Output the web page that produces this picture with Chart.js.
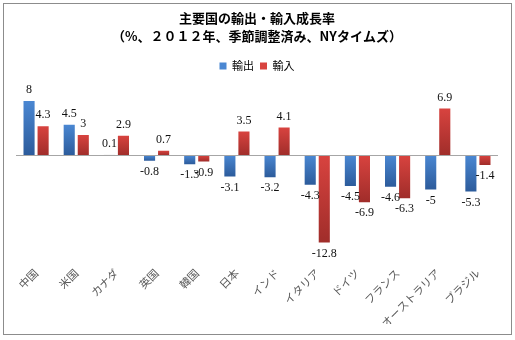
<!DOCTYPE html>
<html>
<head>
<meta charset="utf-8">
<script src="https://cdn.jsdelivr.net/npm/chart.js@4/dist/chart.umd.min.js"></script>
<style>
  html, body { margin: 0; padding: 0; background: #fff; }
  #wrap { position: relative; width: 515px; height: 340px; }
</style>
</head>
<body>
<div id="wrap"><canvas id="chart" width="515" height="340"></canvas></div>
<script>
// data
const countries = ['中国', '米国', 'カナダ', '英国', '韓国', '日本', 'インド', 'イタリア', 'ドイツ', 'フランス', 'オーストラリア', 'ブラジル'];
const exports = [8, 4.5, 0.1, -0.8, -1.3, -3.1, -3.2, -4.3, -4.5, -4.6, -5, -5.3];
const imports = [4.3, 3, 2.9, 0.7, -0.9, 3.5, 4.1, -12.8, -6.9, -6.3, 6.9, -1.4];
const titleLines = ['主要国の輸出・輸入成長率', '（%、２０１２年、季節調整済み、NYタイムズ）'];

const JP = '"Noto Sans CJK JP", "Noto Sans", sans-serif';

function barFill(light, dark) {
    return (ctx) => {
        const chart = ctx.chart;
        if (!chart.chartArea || ctx.raw == null) return light;
        const y = chart.scales.y;
        const top = y.getPixelForValue(Math.max(ctx.raw, 0));
        const bot = y.getPixelForValue(Math.min(ctx.raw, 0));
        if (bot - top < 1) return 'rgba(220,220,220,0.8)';
        const g = chart.ctx.createLinearGradient(0, top, 0, bot);
        g.addColorStop(0, light);
        g.addColorStop(1, dark);
        return g;
    };
}

// frame round the whole chart
const framePlugin = {
    id: 'frame',
    beforeDraw(chart) {
        const c = chart.ctx;
        c.save();
        c.fillStyle = '#fff';
        c.fillRect(0, 0, chart.width, chart.height);
        c.strokeStyle = '#8c8c8c';
        c.lineWidth = 1;
        c.strokeRect(3.5, 3.5, 508, 331);
        c.restore();
    }
};

// a bit more room under the legend
const legendGap = {
    id: 'legendGap',
    beforeInit(chart) {
        const origFit = chart.legend.fit;
        chart.legend.fit = function () {
            origFit.call(this);
            this.height += 6;
        };
    }
};

// value labels above / below each bar
const valueLabels = {
    id: 'valueLabels',
    afterDatasetsDraw(chart) {
        const c = chart.ctx;
        c.save();
        c.font = '12px "Liberation Serif", "DejaVu Serif", serif';
        c.fillStyle = '#111';
        c.textAlign = 'center';
        c.textBaseline = 'middle';
        chart.data.datasets.forEach((ds, i) => {
            chart.getDatasetMeta(i).data.forEach((bar, j) => {
                const v = ds.data[j];
                const yy = v >= 0 ? bar.y - 11 : bar.y + 11;
                c.fillText(String(v), bar.x, yy);
            });
        });
        c.restore();
    }
};

new Chart(document.getElementById('chart'), {
    type: 'bar',
    data: {
        labels: countries,
        datasets: [
            { label: '輸出', data: exports, backgroundColor: barFill('#4a87d2', '#2c5b9b') },
            { label: '輸入', data: imports, backgroundColor: barFill('#d8433f', '#a02d2a') }
        ]
    },
    options: {
        responsive: false,
        animation: false,
        categoryPercentage: 0.7,
        barPercentage: 0.79,
        layout: { padding: { left: 16, right: 17, top: 0, bottom: 16 } },
        plugins: {
            title: {
                display: true,
                text: titleLines,
                color: '#000',
                font: { family: JP, size: 13, weight: 'bold', lineHeight: 1.4 },
                padding: { top: 9, bottom: 9 }
            },
            legend: {
                display: true,
                labels: {
                    boxWidth: 7,
                    boxHeight: 7,
                    padding: 6,
                    color: '#000',
                    font: { family: JP, size: 11 }
                }
            },
            tooltip: { enabled: false }
        },
        scales: {
            x: {
                grid: { display: false },
                border: { display: false },
                ticks: {
                    color: '#595959',
                    font: { family: JP, size: 11 },
                    minRotation: 45,
                    maxRotation: 45,
                    autoSkip: false,
                    padding: -6
                }
            },
            y: {
                min: -16,
                max: 10,
                ticks: { display: false, stepSize: 2 },
                border: { display: false },
                grid: {
                    drawTicks: false,
                    color: (ctx) => ctx.tick && ctx.tick.value === 0 ? '#a6a6a6' : 'rgba(0,0,0,0)'
                }
            }
        }
    },
    plugins: [framePlugin, legendGap, valueLabels]
});
</script>
</body>
</html>
